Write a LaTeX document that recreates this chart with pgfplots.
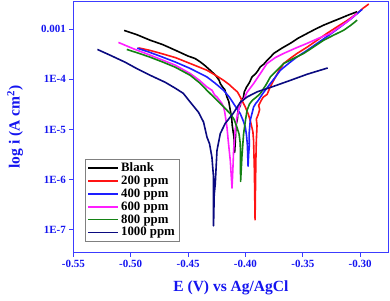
\documentclass[border=0pt]{standalone}
\usepackage{pgfplots}
\pgfplotsset{compat=1.18}
\usepackage{fontspec}
\setmainfont{Liberation Serif}
\definecolor{axblue}{RGB}{60,60,255}
\definecolor{lblblue}{RGB}{20,20,240}
\definecolor{mred}{RGB}{255,20,20}
\definecolor{mblue}{RGB}{30,30,255}
\definecolor{mmag}{RGB}{255,30,255}
\definecolor{mgreen}{RGB}{20,130,20}
\definecolor{mnavy}{RGB}{10,10,128}
\begin{document}
\begin{tikzpicture}
\begin{axis}[
  name=ax,
  scale only axis,
  width=315pt, height=251.4pt,
  xmin=-0.55, xmax=-0.2753,
  ymode=log, ymin=3.47e-8, ymax=3.58e-3,
  axis line style={axblue, line width=1.1pt},
  tick style={axblue, line width=1.1pt},
  major tick length=4pt,
  tick align=outside,
  xtick pos=bottom, ytick pos=left,
  xtick={-0.55,-0.50,-0.45,-0.40,-0.35,-0.30},
  xticklabels={-0.55,-0.50,-0.45,-0.40,-0.35,-0.30},
  ytick={1e-7,1e-6,1e-5,1e-4,1e-3},
  yticklabels={1E-7,1E-6,1E-5,1E-4,0.001},
  yminorticks=false,
  ticklabel style={font=\fontsize{11}{12}\selectfont\bfseries, text=lblblue},
  xlabel={E (V) vs Ag/AgCl},
  ylabel={log i (A cm$^{\mathbf{2}}$)},
  label style={font=\fontsize{15.5}{17}\selectfont\bfseries, text=lblblue},
  xlabel style={at={(axis description cs:0.5,-0.14)}, anchor=center},
  ylabel style={at={(axis description cs:-0.185,0.5)}, anchor=center, rotate=0},
  legend style={at={(axis description cs:0.037,0.044)}, anchor=south west,
    draw=gray, line width=0.7pt, font=\fontsize{12.8}{13}\selectfont\bfseries,
    row sep=-1.2pt, inner sep=2pt},
  legend cell align=left,
  legend image code/.code={\draw[#1, line width=1.8pt] (0pt,0pt) -- (30pt,0pt);},
  every axis plot/.append style={line width=1.6pt, line join=round},
]
% Blank
\addplot[black] coordinates {
(-0.5057,9.4e-4) (-0.4950,7.8e-4) (-0.4830,6.0e-4) (-0.4720,4.9e-4) (-0.4612,3.8e-4)
(-0.4500,2.9e-4) (-0.4440,2.6e-4) (-0.4394,2.22e-4) (-0.4350,1.85e-4) (-0.4307,1.51e-4)
(-0.4260,1.2e-4) (-0.4230,9.6e-5) (-0.4219,8.2e-5) (-0.4195,6.8e-5) (-0.4180,6.2e-5)
(-0.4161,4.43e-5) (-0.4145,3.6e-5) (-0.4132,2.4e-5) (-0.4120,1.7e-5) (-0.4115,1.2e-5)
(-0.4100,7.0e-6) (-0.4094,3.5e-6) (-0.4088,6.0e-6) (-0.4083,1.2e-5) (-0.4070,1.6e-5)
(-0.4065,2.4e-5) (-0.4045,3.0e-5) (-0.4040,3.6e-5) (-0.4018,4.3e-5) (-0.4010,5.6e-5)
(-0.3990,7.0e-5) (-0.3965,8.6e-5) (-0.3943,1.11e-4) (-0.3910,1.3e-4) (-0.3890,1.5e-4)
(-0.3871,1.76e-4) (-0.3840,2.0e-4) (-0.3810,2.4e-4) (-0.3780,2.8e-4) (-0.3754,3.27e-4)
(-0.3680,4.2e-4) (-0.3609,5.2e-4) (-0.3540,6.6e-4) (-0.3462,8.2e-4) (-0.3390,1.0e-3)
(-0.3318,1.2e-3) (-0.3240,1.42e-3) (-0.3172,1.64e-3) (-0.3100,1.92e-3) (-0.3026,2.22e-3)
};
\addlegendentry{Blank}
% 200 ppm
\addplot[mred] coordinates {
(-0.4933,4.23e-4) (-0.4840,3.8e-4) (-0.4743,3.31e-4) (-0.4610,2.7e-4) (-0.4481,2.06e-4)
(-0.4335,1.51e-4) (-0.4260,1.2e-4) (-0.4190,9.5e-5) (-0.4140,7.8e-5) (-0.4103,6.5e-5)
(-0.4070,5.6e-5) (-0.4045,4.43e-5) (-0.4020,3.4e-5) (-0.4001,2.79e-5) (-0.3975,2.0e-5)
(-0.3958,1.51e-5) (-0.3935,9.0e-6) (-0.3929,6.0e-6) (-0.3922,1.5e-6) (-0.3916,1.58e-7)
(-0.3912,8.0e-7) (-0.3909,2.4e-6) (-0.3905,6.0e-6) (-0.3899,1.2e-5) (-0.3905,1.6e-5)
(-0.3888,2.0e-5) (-0.3876,2.5e-5) (-0.3885,3.0e-5) (-0.3862,3.8e-5) (-0.3845,4.4e-5)
(-0.3811,5.0e-5) (-0.3790,6.5e-5) (-0.3754,9.5e-5) (-0.3710,1.45e-4) (-0.3667,2.06e-4)
(-0.3610,2.6e-4) (-0.3550,3.27e-4) (-0.3460,4.4e-4) (-0.3375,6.0e-4) (-0.3290,8.2e-4)
(-0.3201,1.11e-3) (-0.3110,1.5e-3) (-0.3026,2.06e-3) (-0.2975,2.6e-3) (-0.2925,3.16e-3)
};
\addlegendentry{200 ppm}
% 400 ppm
\addplot[mblue] coordinates {
(-0.4944,4.17e-4) (-0.4843,3.5e-4) (-0.4743,2.88e-4) (-0.4610,2.2e-4) (-0.4481,1.64e-4)
(-0.4335,1.11e-4) (-0.4260,8.2e-5) (-0.4190,6.0e-5) (-0.4140,4.4e-5) (-0.4103,3.27e-5)
(-0.4045,2.06e-5) (-0.4020,1.5e-5) (-0.4001,1.11e-5) (-0.3990,7.5e-6) (-0.3983,4.8e-6)
(-0.3977,1.85e-6) (-0.3972,3.2e-6) (-0.3966,4.8e-6) (-0.3968,8.0e-6) (-0.3958,1.51e-5)
(-0.3950,1.8e-5) (-0.3940,2.2e-5) (-0.3929,2.79e-5) (-0.3910,3.3e-5) (-0.3888,3.8e-5)
(-0.3841,5.5e-5) (-0.3783,8.2e-5) (-0.3740,1.1e-4) (-0.3696,1.51e-4) (-0.3620,2.1e-4)
(-0.3550,2.79e-4) (-0.3460,3.8e-4) (-0.3375,5.2e-4) (-0.3270,7.6e-4) (-0.3172,1.11e-3)
(-0.3080,1.6e-3) (-0.2982,2.48e-3)
};
\addlegendentry{400 ppm}
% 600 ppm
\addplot[mmag] coordinates {
(-0.5107,5.42e-4) (-0.4970,4.0e-4) (-0.4830,3.02e-4) (-0.4720,2.4e-4) (-0.4612,1.91e-4)
(-0.4481,1.3e-4) (-0.4400,9.5e-5) (-0.4335,7.0e-5) (-0.4290,6.0e-5) (-0.4270,4.9e-5)
(-0.4248,4.43e-5) (-0.4225,3.8e-5) (-0.4205,3.3e-5) (-0.4190,2.79e-5) (-0.4180,2.2e-5)
(-0.4161,1.11e-5) (-0.4150,6.0e-6) (-0.4132,2.4e-6) (-0.4117,6.8e-7) (-0.4110,1.5e-6)
(-0.4103,3.8e-6) (-0.4090,9.0e-6) (-0.4074,1.76e-5) (-0.4060,2.4e-5) (-0.4045,3.3e-5)
(-0.4010,4.2e-5) (-0.3986,5.5e-5) (-0.3929,8.2e-5) (-0.3870,1.3e-4) (-0.3812,2.06e-4)
(-0.3740,2.7e-4) (-0.3667,3.27e-4) (-0.3560,4.2e-4) (-0.3462,5.2e-4) (-0.3360,6.6e-4)
(-0.3259,8.2e-4) (-0.3180,1.1e-3) (-0.3113,1.4e-3) (-0.3026,2.06e-3)
};
\addlegendentry{600 ppm}
% 800 ppm
\addplot[mgreen] coordinates {
(-0.5034,3.93e-4) (-0.4930,3.3e-4) (-0.4830,2.75e-4) (-0.4720,2.2e-4) (-0.4612,1.74e-4)
(-0.4481,1.2e-4) (-0.4400,8.5e-5) (-0.4335,6.0e-5) (-0.4280,4.5e-5) (-0.4219,3.27e-5)
(-0.4132,2.06e-5) (-0.4100,1.6e-5) (-0.4074,1.11e-5) (-0.4055,8.0e-6) (-0.4045,5.2e-6)
(-0.4042,9.2e-7) (-0.4030,3.0e-6) (-0.4016,8.2e-6) (-0.4000,1.5e-5) (-0.3986,2.4e-5)
(-0.3965,3.2e-5) (-0.3940,3.8e-5) (-0.3900,4.5e-5) (-0.3870,5.2e-5) (-0.3820,7.8e-5)
(-0.3783,1.11e-4) (-0.3720,1.55e-4) (-0.3667,2.06e-4) (-0.3580,2.6e-4) (-0.3492,3.27e-4)
(-0.3400,4.5e-4) (-0.3318,6.0e-4) (-0.3230,7.6e-4) (-0.3143,9.5e-4) (-0.3080,1.2e-3)
(-0.3026,1.51e-3)
};
\addlegendentry{800 ppm}
% 1000 ppm
\addplot[mnavy] coordinates {
(-0.5290,3.93e-4) (-0.5170,2.95e-4) (-0.5049,2.19e-4) (-0.4940,1.6e-4) (-0.4830,1.2e-4)
(-0.4699,8.7e-5) (-0.4610,6.6e-5) (-0.4542,5.25e-5) (-0.4481,3.5e-5) (-0.4409,2.2e-5)
(-0.4365,1.4e-5) (-0.4335,7.0e-6) (-0.4313,5.2e-6) (-0.4292,2.79e-6) (-0.4278,1.11e-6)
(-0.4278,1.2e-7) (-0.4272,5.0e-7) (-0.4263,8.2e-7) (-0.4248,3.8e-6) (-0.4219,8.3e-6)
(-0.4176,1.32e-5) (-0.4106,2.1e-5) (-0.4045,3.47e-5) (-0.3986,4.43e-5) (-0.3899,5.6e-5)
(-0.3757,7.2e-5) (-0.3609,9.5e-5) (-0.3462,1.26e-4) (-0.3283,1.68e-4)
};
\addlegendentry{1000 ppm}
\end{axis}
\path ([shift={(-73.3pt,-47.3pt)}]ax.south west) rectangle ([shift={(1.5pt,1.3pt)}]ax.north east);
\end{tikzpicture}
\end{document}
